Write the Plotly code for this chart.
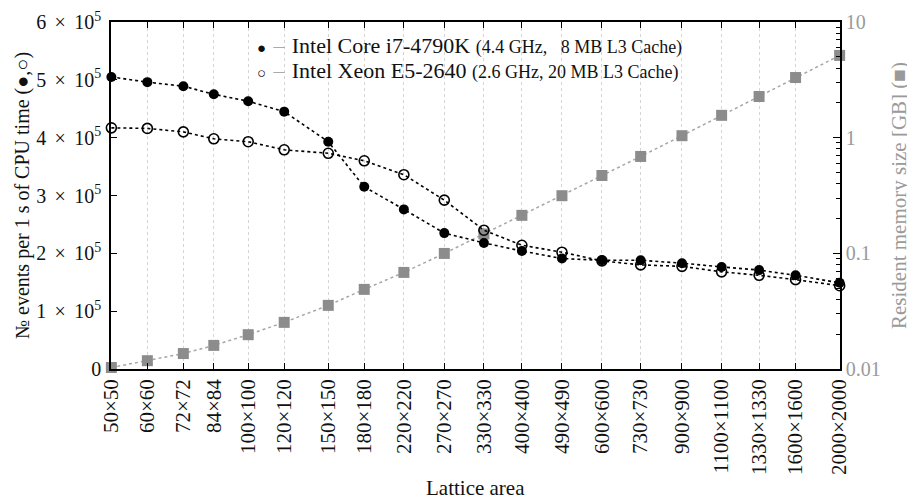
import math
import plotly.graph_objects as go

# ---- data ----
sides = [50, 60, 72, 84, 100, 120, 150, 180, 220, 270, 330, 400, 490, 600, 730, 900, 1100, 1330, 1600, 2000]
x_labels = [f"{s}×{s}" for s in sides]

i7_events = [505000, 496000, 489000, 475000, 463000, 445000, 393000, 315000, 276000, 235000,
             218000, 204000, 191000, 188000, 188000, 183000, 176500, 171000, 162000, 149000]
xeon_events = [417000, 416000, 410000, 398000, 393000, 379000, 373000, 360000, 336000, 292000,
               240000, 214000, 202000, 187000, 180000, 177500, 168000, 162000, 154500, 144000]
memory_gb = [0.0103, 0.0118, 0.0136, 0.0160, 0.0198, 0.0253, 0.0355, 0.0488, 0.0684, 0.0998,
             0.147, 0.213, 0.315, 0.471, 0.688, 1.04, 1.56, 2.27, 3.31, 5.14]

left_ticks = [0, 100000, 200000, 300000, 400000, 500000, 600000]
left_ticktext = ["0"] + [f"{k}\u2004\u200a×\u2004\u200a10<sup>5</sup>" for k in range(1, 7)]
right_ticks = [0.01, 0.1, 1, 10]
right_ticktext = ["0.01", "0.1", "1", "10"]

FONT = "Liberation Serif"
GREY = "#8c8c8c"
TXT = "#111111"
LGREY = "#9a9a9a"

minor_vals = [m * 10 ** e for e in (-2, -1, 0) for m in range(2, 10)]

fig = go.Figure()

fig.add_trace(go.Scatter(
    x=sides, y=memory_gb, mode="lines+markers", yaxis="y",
    line=dict(color="#a6a6a6", width=1.5, dash="dot"),
    marker=dict(symbol="square", size=11, color=GREY),
    cliponaxis=False, showlegend=False))

fig.add_trace(go.Scatter(
    x=sides, y=i7_events, mode="lines+markers", yaxis="y2",
    line=dict(color="black", width=1.6, dash="dot"),
    marker=dict(symbol="circle", size=10, color="black"),
    cliponaxis=False, showlegend=False))

fig.add_trace(go.Scatter(
    x=sides, y=xeon_events, mode="lines+markers", yaxis="y2",
    line=dict(color="black", width=1.6, dash="dot"),
    marker=dict(symbol="circle-open", size=10, color="black", line=dict(width=1.6)),
    cliponaxis=False, showlegend=False))

# the page body has an 8px default margin, so the figure is 8px smaller
pad = 0.0008
fig.update_layout(
    width=907, height=493,
    margin=dict(l=103, r=75, t=14, b=132, autoexpand=False),
    paper_bgcolor="white", plot_bgcolor="white",
    font=dict(family=FONT, size=20, color=TXT),
    xaxis=dict(
        type="log", range=[math.log10(50) - pad, math.log10(2000) + pad],
        tickvals=sides, ticktext=x_labels, tickangle=-90,
        ticks="inside", ticklen=6, tickcolor="black", tickwidth=1.2,
        showline=True, linecolor="black", linewidth=1.5, mirror="ticks",
        showgrid=True, gridcolor="#d4d4d4", griddash="dot", gridwidth=1,
        zeroline=False, automargin=False,
        tickfont=dict(size=21, color=TXT),
    ),
    yaxis=dict(
        type="log", range=[-2, 1], side="right",
        tickvals=right_ticks, ticktext=right_ticktext,
        ticks="inside", ticklen=7, tickcolor="black", tickwidth=1.2,
        minor=dict(ticks="inside", ticklen=4, tickvals=minor_vals, tickcolor="black", showgrid=False),
        showline=True, linecolor="black", linewidth=1.5,
        showgrid=False, zeroline=False, automargin=False,
        tickfont=dict(size=20, color=LGREY),
        title=dict(text="Resident memory size [GB] (■)", font=dict(size=21, color=LGREY), standoff=12),
    ),
    yaxis2=dict(
        overlaying="y", side="left",
        range=[0, 600000],
        tickvals=left_ticks, ticktext=left_ticktext,
        ticks="inside", ticklen=6, tickcolor="black", tickwidth=1.2,
        showline=True, linecolor="black", linewidth=1.5,
        showgrid=False, zeroline=False, automargin=False,
        ticklabelstandoff=4,
        tickfont=dict(size=20, color=TXT),
        title=dict(text="№ events per 1 s of CPU time (●,○)", font=dict(size=20, color=TXT), standoff=1),
    ),
)

fig.add_annotation(
    xref="paper", yref="paper", x=0.5, y=-0.342, xanchor="center", yanchor="middle",
    showarrow=False, text="Lattice area", font=dict(family=FONT, size=21, color=TXT))

legend_rows = [
    ("●", "Intel Core i7-4790K", "(4.4 GHz,\u2002 8 MB L3 Cache)", 0.932),
    ("○", "Intel Xeon E5-2640", "(2.6 GHz, 20 MB L3 Cache)", 0.860),
]
for sym, name, detail, yy in legend_rows:
    fig.add_annotation(
        xref="paper", yref="paper", x=0.1975, y=yy, xanchor="left", yanchor="middle",
        showarrow=False, align="left",
        text=(f"<span style='font-size:15px'>{sym}</span>\u2004<span style='color:#aaaaaa'>–</span>\u2004"
              f"{name} <span style='font-size:18px'>{detail}</span>"),
        font=dict(family=FONT, size=22, color=TXT),
        bgcolor="rgba(255,255,255,0)",
    )

fig.write_html("out.html")
